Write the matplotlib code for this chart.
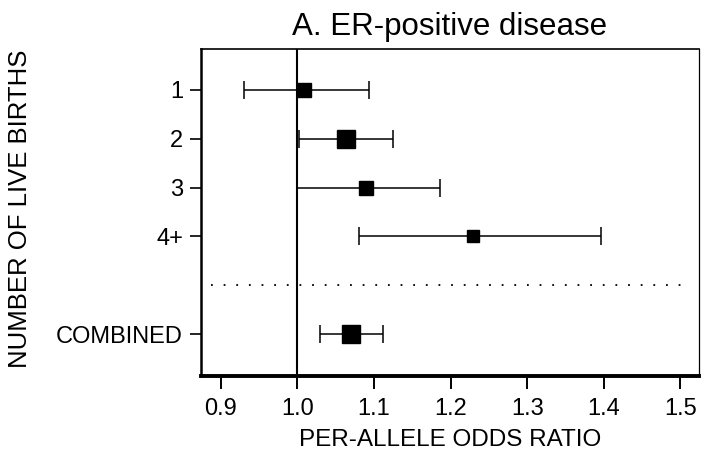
import matplotlib
matplotlib.use("Agg")
import matplotlib.pyplot as plt

plt.rcParams['font.family'] = ['Liberation Sans', 'DejaVu Sans']

# data
labels = ["1", "2", "3", "4+", "COMBINED"]
rows = [0, 1, 2, 3, 5]
odds = [1.009, 1.063, 1.089, 1.229, 1.070]
ci_low = [0.930, 1.002, 1.000, 1.081, 1.029]
ci_high = [1.094, 1.125, 1.186, 1.397, 1.112]
box_size = [9.5, 13, 10, 8.5, 13.5]
sep_row = 4

fig = plt.figure(figsize=(7.01, 4.58), dpi=100)
ax = fig.add_axes([201 / 701, 1 - 376 / 458, 498 / 701, 327 / 458])

ax.axvline(1.0, color='black', lw=1.5, zorder=1)

for y, m, lo, hi, s in zip(rows, odds, ci_low, ci_high, box_size):
    ax.errorbar(m, y, xerr=[[m - lo], [hi - m]], fmt='none', ecolor='black',
                elinewidth=1.1, capsize=6.5, capthick=1.1, zorder=2)
    ax.plot(m, y, marker='s', ms=s, color='black', zorder=3)

# dotted separator before the combined estimate
ax.plot([0.887, 1.506], [sep_row, sep_row], color='black', lw=1.3,
        linestyle=(0, (1, 6)))

ax.set_xlim(0.874, 1.5245)
ax.set_ylim(5.86, -0.84)
ax.set_xticks([0.9, 1.0, 1.1, 1.2, 1.3, 1.4, 1.5])
ax.set_xticklabels(["0.9", "1.0", "1.1", "1.2", "1.3", "1.4", "1.5"])
ax.set_yticks(rows)
ax.set_yticklabels(labels)

ax.tick_params(axis='x', direction='out', length=9, width=1.4, labelsize=17, pad=7)
ax.tick_params(axis='y', direction='out', length=8, width=1.2, labelsize=17, pad=5)

ax.spines['left'].set_linewidth(1.8)
ax.spines['bottom'].set_linewidth(2.8)
ax.spines['top'].set_linewidth(1.2)
ax.spines['right'].set_linewidth(0.9)

ax.set_title("A. ER-positive disease", fontsize=22.5, pad=10)
ax.set_xlabel("PER-ALLELE ODDS RATIO", fontsize=17.5, labelpad=6)
ax.set_ylabel("NUMBER OF LIVE BIRTHS", fontsize=18.5)
ax.yaxis.set_label_coords((32 - 201) / 498, 0.51)

fig.savefig("out.png", dpi=100)
